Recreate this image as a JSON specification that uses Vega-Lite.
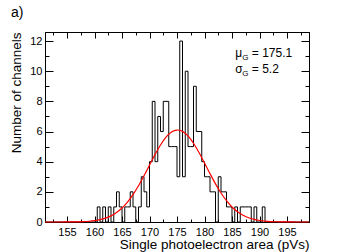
{
  "$schema": "https://vega.github.io/schema/vega-lite/v6.json",
  "width": 264,
  "height": 190,
  "autosize": "none",
  "padding": {"left": 45, "top": 32, "right": 34, "bottom": 30},
  "background": "white",
  "config": {
    "font": "Liberation Sans",
    "view": {"stroke": "black", "strokeWidth": 1},
    "axis": {
      "grid": false,
      "domainColor": "black",
      "tickColor": "black",
      "labelColor": "black",
      "titleColor": "black",
      "labelFont": "Liberation Sans",
      "titleFont": "Liberation Sans",
      "labelFontSize": 11,
      "titleFontSize": 13.5,
      "titleFontWeight": "normal"
    }
  },
  "title": {"text": "a)", "anchor": "start", "frame": "group", "dx": -34, "offset": 12, "fontSize": 14, "fontWeight": "normal", "font": "Liberation Sans", "color": "black"},
  "datasets": {
    "hist": [
      {"bin": 151, "count": 0},
      {"bin": 160, "count": 0},
      {"bin": 160.5, "count": 1},
      {"bin": 161, "count": 0},
      {"bin": 161.5, "count": 1},
      {"bin": 162, "count": 0},
      {"bin": 162.5, "count": 1},
      {"bin": 163, "count": 0},
      {"bin": 163.5, "count": 1},
      {"bin": 164, "count": 2},
      {"bin": 164.5, "count": 1},
      {"bin": 165, "count": 0},
      {"bin": 165.5, "count": 1},
      {"bin": 166, "count": 1},
      {"bin": 166.5, "count": 2},
      {"bin": 167, "count": 1},
      {"bin": 167.5, "count": 0},
      {"bin": 168, "count": 1},
      {"bin": 168.5, "count": 3},
      {"bin": 169, "count": 2},
      {"bin": 169.5, "count": 1},
      {"bin": 170, "count": 4},
      {"bin": 170.5, "count": 8},
      {"bin": 171, "count": 4},
      {"bin": 171.5, "count": 7},
      {"bin": 172, "count": 6},
      {"bin": 172.5, "count": 8},
      {"bin": 173, "count": 8},
      {"bin": 173.5, "count": 5},
      {"bin": 174, "count": 5},
      {"bin": 174.5, "count": 5},
      {"bin": 175, "count": 3},
      {"bin": 175.5, "count": 12},
      {"bin": 176, "count": 3},
      {"bin": 176.5, "count": 10},
      {"bin": 177, "count": 5},
      {"bin": 177.5, "count": 5},
      {"bin": 178, "count": 9},
      {"bin": 178.5, "count": 6},
      {"bin": 179, "count": 6},
      {"bin": 179.5, "count": 4},
      {"bin": 180, "count": 3},
      {"bin": 180.5, "count": 3},
      {"bin": 181, "count": 2},
      {"bin": 181.5, "count": 2},
      {"bin": 182, "count": 0},
      {"bin": 182.5, "count": 3},
      {"bin": 183, "count": 2},
      {"bin": 183.5, "count": 2},
      {"bin": 184, "count": 1},
      {"bin": 184.5, "count": 1},
      {"bin": 185, "count": 0},
      {"bin": 185.5, "count": 1},
      {"bin": 186, "count": 0},
      {"bin": 186.5, "count": 1},
      {"bin": 187, "count": 1},
      {"bin": 187.5, "count": 1},
      {"bin": 188, "count": 1},
      {"bin": 188.5, "count": 0},
      {"bin": 189, "count": 1},
      {"bin": 189.5, "count": 0},
      {"bin": 190, "count": 0},
      {"bin": 190.5, "count": 1},
      {"bin": 191, "count": 0},
      {"bin": 199, "count": 0}
    ],
    "gauss": [
      {"x": 151, "g": 0.0001}, {"x": 152, "g": 0.0003}, {"x": 153, "g": 0.0007}, {"x": 154, "g": 0.0016},
      {"x": 155, "g": 0.0035}, {"x": 156, "g": 0.0072}, {"x": 157, "g": 0.0143}, {"x": 158, "g": 0.0274},
      {"x": 159, "g": 0.0505}, {"x": 160, "g": 0.090}, {"x": 161, "g": 0.154}, {"x": 162, "g": 0.255},
      {"x": 163, "g": 0.407}, {"x": 164, "g": 0.625}, {"x": 165, "g": 0.925}, {"x": 166, "g": 1.320},
      {"x": 167, "g": 1.813}, {"x": 168, "g": 2.401}, {"x": 169, "g": 3.065}, {"x": 170, "g": 3.771},
      {"x": 171, "g": 4.470}, {"x": 172, "g": 5.107}, {"x": 173, "g": 5.622}, {"x": 174, "g": 5.965},
      {"x": 175, "g": 6.099}, {"x": 175.1, "g": 6.1}, {"x": 176, "g": 6.009}, {"x": 177, "g": 5.706},
      {"x": 178, "g": 5.222}, {"x": 179, "g": 4.605}, {"x": 180, "g": 3.913}, {"x": 181, "g": 3.205},
      {"x": 182, "g": 2.529}, {"x": 183, "g": 1.923}, {"x": 184, "g": 1.410}, {"x": 185, "g": 0.996},
      {"x": 186, "g": 0.678}, {"x": 187, "g": 0.445}, {"x": 188, "g": 0.281}, {"x": 189, "g": 0.171},
      {"x": 190, "g": 0.101}, {"x": 191, "g": 0.057}, {"x": 192, "g": 0.031}, {"x": 193, "g": 0.016},
      {"x": 194, "g": 0.008}, {"x": 195, "g": 0.004}, {"x": 196, "g": 0.0019}, {"x": 197, "g": 0.0009},
      {"x": 198, "g": 0.0004}, {"x": 199, "g": 0.0002}
    ],
    "ann": [
      {"xs": 185.6, "xg": 186.85, "xv": 188.6, "y": 10.93, "sym": "μ", "sub": "G", "val": "= 175.1"},
      {"xs": 185.6, "xg": 186.85, "xv": 188.6, "y": 9.87, "sym": "σ", "sub": "G", "val": "= 5.2"}
    ]
  },
  "layer": [
    {
      "data": {"name": "hist"},
      "mark": {"type": "line", "interpolate": "step-after", "color": "black", "strokeWidth": 1},
      "encoding": {
        "x": {
          "field": "bin", "type": "quantitative",
          "scale": {"domain": [151, 199], "nice": false, "zero": false},
          "axis": {
            "orient": "bottom",
            "title": "Single photoelectron area (pVs)",
            "titleX": 264, "titleY": 26, "titleAlign": "right", "titleBaseline": "alphabetic", "titleAnchor": "end",
            "values": [152.5, 155, 157.5, 160, 162.5, 165, 167.5, 170, 172.5, 175, 177.5, 180, 182.5, 185, 187.5, 190, 192.5, 195, 197.5],
            "labelExpr": "datum.value % 5 === 0 ? datum.label : ''",
            "tickSize": {"condition": {"test": "datum.value % 5 === 0", "value": -6}, "value": -3},
            "labelPadding": 10,
            "labelFlush": false
          }
        },
        "y": {
          "field": "count", "type": "quantitative",
          "scale": {"domain": [0, 12.6], "nice": false},
          "axis": {
            "orient": "left",
            "title": "Number of channels",
            "titleX": -22, "titleY": 0, "titleAlign": "right", "titleBaseline": "bottom", "titleAngle": -90, "titleAnchor": "end",
            "values": [0, 1, 2, 3, 4, 5, 6, 7, 8, 9, 10, 11, 12],
            "labelExpr": "datum.value % 2 === 0 ? datum.label : ''",
            "tickSize": {"condition": {"test": "datum.value % 2 === 0", "value": -8}, "value": -4},
            "labelPadding": 11,
            "labelFlush": false
          }
        }
      }
    },
    {
      "data": {"name": "gauss"},
      "mark": {"type": "line", "interpolate": "monotone", "color": "#ff0000", "strokeWidth": 1.2},
      "encoding": {
        "x": {
          "field": "x", "type": "quantitative",
          "scale": {"domain": [151, 199], "nice": false, "zero": false},
          "axis": {
            "orient": "top", "title": null, "labels": false,
            "values": [152.5, 155, 157.5, 160, 162.5, 165, 167.5, 170, 172.5, 175, 177.5, 180, 182.5, 185, 187.5, 190, 192.5, 195, 197.5],
            "tickSize": {"condition": {"test": "datum.value % 5 === 0", "value": -6}, "value": -3}
          }
        },
        "y": {
          "field": "g", "type": "quantitative",
          "scale": {"domain": [0, 12.6], "nice": false},
          "axis": {
            "orient": "right", "title": null, "labels": false,
            "values": [0, 1, 2, 3, 4, 5, 6, 7, 8, 9, 10, 11, 12],
            "tickSize": {"condition": {"test": "datum.value % 2 === 0", "value": -8}, "value": -4}
          }
        }
      }
    },
    {
      "data": {"name": "ann"},
      "mark": {"type": "text", "align": "left", "baseline": "alphabetic", "fontSize": 12, "color": "black", "font": "Liberation Sans"},
      "encoding": {
        "x": {"field": "xs", "type": "quantitative", "axis": null},
        "y": {"field": "y", "type": "quantitative", "axis": null},
        "text": {"field": "sym"}
      }
    },
    {
      "data": {"name": "ann"},
      "mark": {"type": "text", "align": "left", "baseline": "alphabetic", "fontSize": 8, "dy": 3, "color": "black", "font": "Liberation Sans"},
      "encoding": {
        "x": {"field": "xg", "type": "quantitative", "axis": null},
        "y": {"field": "y", "type": "quantitative", "axis": null},
        "text": {"field": "sub"}
      }
    },
    {
      "data": {"name": "ann"},
      "mark": {"type": "text", "align": "left", "baseline": "alphabetic", "fontSize": 12, "color": "black", "font": "Liberation Sans"},
      "encoding": {
        "x": {"field": "xv", "type": "quantitative", "axis": null},
        "y": {"field": "y", "type": "quantitative", "axis": null},
        "text": {"field": "val"}
      }
    }
  ],
  "resolve": {"axis": {"x": "independent", "y": "independent"}}
}
